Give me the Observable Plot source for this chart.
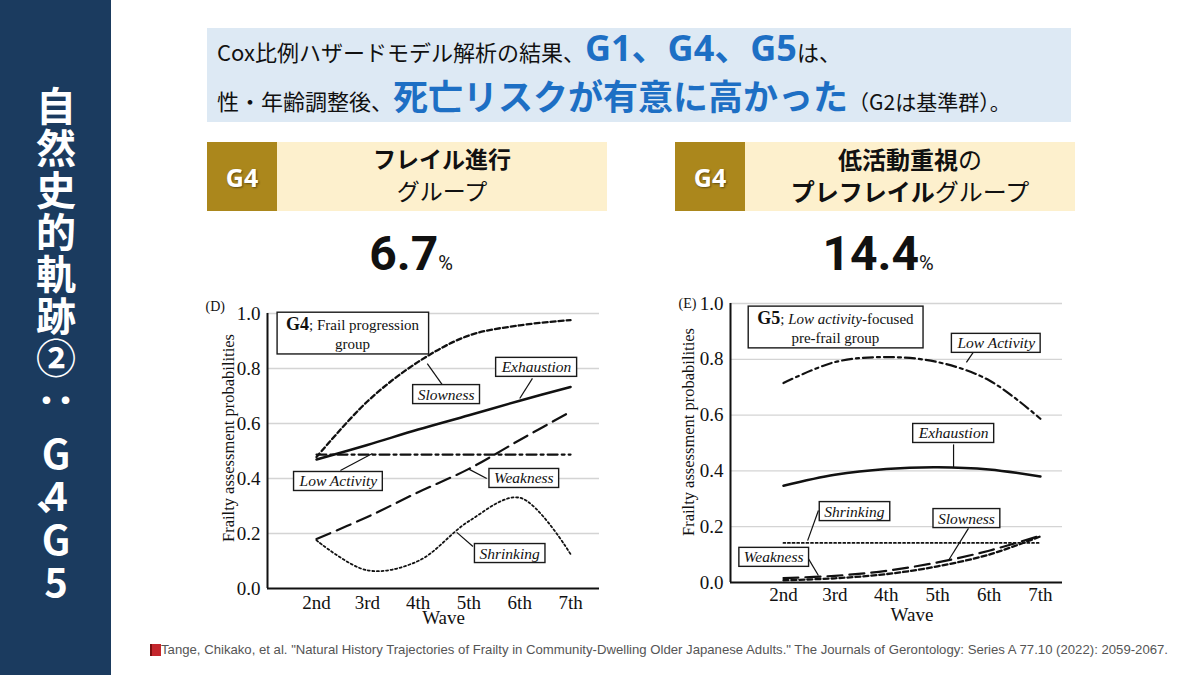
<!DOCTYPE html>
<html><head><meta charset="utf-8">
<script src="https://cdn.jsdelivr.net/npm/d3@7"></script>
<script src="https://cdn.jsdelivr.net/npm/@observablehq/plot@0.6"></script>
<style>
body{margin:0;background:#fff;}
#page{position:relative;width:1200px;height:675px;background:#fff;overflow:hidden;font-family:"Noto Sans CJK JP","Noto Sans",sans-serif;color:#111;}
#side{position:absolute;left:0;top:0;width:111px;height:675px;background:#1b3b5f;}
#sideText{position:absolute;left:36px;top:86px;writing-mode:vertical-rl;text-orientation:upright;color:#fff;font-weight:700;font-size:40px;line-height:1;letter-spacing:2px;white-space:nowrap;}
#topbox{position:absolute;left:207px;top:28px;width:864px;height:94px;background:#dde9f4;}
.tl{position:absolute;left:10px;white-space:nowrap;line-height:1;}
.blue{color:#1d6fc4;font-weight:700;display:inline-block;line-height:0.95;}
.hdr{position:absolute;top:142px;height:69px;}
.gold{background:#ab871c;color:#fff;font-weight:700;font-size:25px;display:flex;align-items:center;justify-content:center;text-shadow:1px 1px 2px rgba(0,0,0,.45);font-family:"Noto Sans","Noto Sans CJK JP",sans-serif;}
.cream{background:#fdf0cd;text-align:center;}
.cream div{position:absolute;left:0;right:0;line-height:1;white-space:nowrap;}
.pct{position:absolute;top:230px;font-family:Roboto,"Liberation Sans",sans-serif;font-weight:700;font-size:48px;line-height:1;white-space:nowrap;text-align:center;width:200px;}
.pct span{font-size:20px;font-weight:400;}
.chart{position:absolute;top:290px;width:410px;height:345px;}
#cap{position:absolute;left:161px;top:642px;font-family:"Liberation Sans Narrow","Liberation Sans",Arial,sans-serif;font-size:13px;color:#555;white-space:nowrap;transform-origin:0 0;}
#icon{position:absolute;left:150px;top:644px;width:9px;height:12px;background:#c4262c;border-left:2px solid #7a1010;}
</style></head>
<body><div id="page">
<div id="side"></div>
<div id="sideText">自然史的軌跡②<span style="margin-inline-end:12px">：</span>G4<span style="margin-inline-start:-22px;margin-inline-end:-18px;position:relative;left:-24px;top:4px;">、</span>G5</div>

<div id="topbox">
  <div class="tl" style="top:3px;font-size:22px;">Cox比例ハザードモデル解析の結果、<span class="blue" style="font-size:36px;font-family:'Noto Sans','Noto Sans CJK JP',sans-serif;">G1、G4、G5</span>は、</div>
  <div class="tl" style="top:50px;font-size:22px;">性・年齢調整後、<span class="blue" style="font-size:35px;">死亡リスクが有意に高かった</span><span style="font-size:21px;">（G2は基準群）。</span></div>
</div>

<div class="hdr gold" style="left:207px;width:70px;">G4</div>
<div class="hdr cream" style="left:277px;width:330px;">
  <div style="top:5px;font-size:23px;font-weight:700;">フレイル進行</div>
  <div style="top:37px;font-size:23px;">グループ</div>
</div>
<div class="hdr gold" style="left:675px;width:70px;">G4</div>
<div class="hdr cream" style="left:745px;width:330px;">
  <div style="top:5px;font-size:24px;"><b>低活動重視</b>の</div>
  <div style="top:37px;font-size:24px;"><b>プレフレイル</b>グループ</div>
</div>

<div class="pct" style="left:311px;">6.7<span>%</span></div>
<div class="pct" style="left:778px;">14.4<span>%</span></div>

<div class="chart" id="chartL" style="left:200px;"></div>
<div class="chart" id="chartR" style="left:670px;"></div>

<div id="icon"></div>
<div id="cap">Tange, Chikako, et al. "Natural History Trajectories of Frailty in Community-Dwelling Older Japanese Adults." The Journals of Gerontology: Series A 77.10 (2022): 2059-2067.</div>
</div>

<script>
// ---- data ----
const waves = [2, 3, 4, 5, 6, 7];
const waveLabels = ["2nd", "3rd", "4th", "5th", "6th", "7th"];
const yTicks = [0, 0.2, 0.4, 0.6, 0.8, 1.0];
const seriesNames = ["Slowness", "Exhaustion", "Low Activity", "Weakness", "Shrinking"];

// G4: Frail progression group
const g4Slowness    = [0.478, 0.680, 0.824, 0.920, 0.957, 0.976];
const g4Exhaustion  = [0.469, 0.522, 0.578, 0.630, 0.683, 0.733];
const g4LowActivity = [0.487, 0.487, 0.487, 0.487, 0.487, 0.487];
const g4Weakness    = [0.180, 0.260, 0.350, 0.435, 0.540, 0.643];
const g4Shrinking   = [0.175, 0.066, 0.100, 0.245, 0.330, 0.125];

// G5: Low activity-focused pre-frail group
const g5Slowness    = [0.008, 0.015, 0.030, 0.058, 0.100, 0.165];
const g5Exhaustion  = [0.347, 0.386, 0.407, 0.413, 0.405, 0.380];
const g5LowActivity = [0.715, 0.790, 0.808, 0.790, 0.725, 0.587];
const g5Weakness    = [0.016, 0.024, 0.042, 0.072, 0.114, 0.168];
const g5Shrinking   = [0.142, 0.142, 0.142, 0.142, 0.142, 0.142];

// annotation labels (data units: wave, probability)
const g4LabelNames = ["Slowness", "Exhaustion", "Low Activity", "Weakness", "Shrinking"];
const g4LabelWave  = [4.55, 6.33, 2.43, 6.08, 5.80];
const g4LabelProb  = [0.705, 0.804, 0.389, 0.400, 0.127];
const g4LeaderFrom = [[4.47, 0.742], [6.25, 0.764], [2.47, 0.429], [5.35, 0.400], [5.08, 0.153]];
const g4LeaderTo   = [[4.18, 0.818], [6.00, 0.691], [3.10, 0.491], [4.98, 0.436], [4.76, 0.204]];

const g5LabelNames = ["Low Activity", "Exhaustion", "Shrinking", "Slowness", "Weakness"];
const g5LabelWave  = [6.14, 5.31, 3.38, 5.56, 1.81];
const g5LabelProb  = [0.857, 0.534, 0.254, 0.229, 0.090];
const g5LeaderFrom = [[5.85, 0.867], [5.31, 0.495], [2.68, 0.258], [5.60, 0.194], [2.47, 0.090]];
const g5LeaderTo   = [[5.56, 0.789], [5.31, 0.412], [2.47, 0.150], [5.21, 0.079], [2.68, 0.025]];

// ---- styles ----
const lineStyle = {
  "Slowness":     {strokeDasharray: "5,3", strokeWidth: 2.3},
  "Exhaustion":   {strokeDasharray: null, strokeWidth: 2.5},
  "Low Activity": {strokeDasharray: "10,4,3,4", strokeWidth: 2.2},
  "Weakness":     {strokeDasharray: "15,7", strokeWidth: 2.2},
  "Shrinking":    {strokeDasharray: "2,2.6", strokeWidth: 1.8}
};
const serif = '"Liberation Serif","DejaVu Serif",serif';

function makeChart(cfg) {
  const seriesMarks = seriesNames.map(name => {
    const vals = cfg.series[name];
    const rows = waves.map((w, i) => ({wave: w, value: vals[i]}));
    const st = lineStyle[name];
    const opts = {x: "wave", y: "value", curve: "catmull-rom", stroke: "#111", strokeWidth: st.strokeWidth};
    if (st.strokeDasharray) opts.strokeDasharray = st.strokeDasharray;
    return Plot.line(rows, opts);
  });
  const labels = cfg.labelNames.map((t, i) => ({text: t, wave: cfg.labelWave[i], prob: cfg.labelProb[i]}));
  const leaders = cfg.leaderFrom.map((f, i) => ({x1: f[0], y1: f[1], x2: cfg.leaderTo[i][0], y2: cfg.leaderTo[i][1]}));
  return Plot.plot({
    width: 410, height: 345,
    marginLeft: cfg.ml, marginRight: cfg.mr, marginTop: cfg.mt, marginBottom: cfg.mb,
    style: {fontFamily: serif, fontSize: "19px", background: "transparent", color: "#111", overflow: "visible"},
    x: {domain: cfg.xDomain, ticks: waves, tickFormat: d => waveLabels[waves.indexOf(d)], tickSize: 0, tickPadding: cfg.tp, label: null},
    y: {domain: [0, 1], ticks: yTicks, tickFormat: d3.format(".1f"), tickSize: 0, tickPadding: 7, label: null},
    marks: [
      Plot.ruleY(yTicks.filter(d => d > 0), {stroke: "#d4d4d4", strokeWidth: 1.3}),
      ...seriesMarks,
      Plot.ruleY([0], {stroke: "#111", strokeWidth: 2}),
      Plot.ruleX([cfg.xDomain[0]], {y1: 0, y2: 1, stroke: "#111", strokeWidth: 2}),
      Plot.link(leaders, {x1: "x1", y1: "y1", x2: "x2", y2: "y2", stroke: "#111", strokeWidth: 1.2}),
      Plot.text(labels, {x: "wave", y: "prob", text: "text", fontStyle: "italic", fontSize: 15.5, fill: "#111", ariaLabel: () => "boxlabel"}),
      Plot.text([cfg.title], {x: () => cfg.titlePos[0], y: () => cfg.titlePos[1], text: d => d, fontSize: 15, lineHeight: 1.25, fill: "#111", ariaLabel: () => "titlelabel"}),
      Plot.text(["Frailty assessment probabilities"], {frameAnchor: "left", textAnchor: "middle", rotate: -90, dx: cfg.ylabDx, dy: cfg.ylabDy, fontSize: 16.5, fill: "#111"}),
      Plot.text(["Wave"], {x: () => 4.5, frameAnchor: "bottom", lineAnchor: "top", dy: cfg.waveDy, fontSize: 19, fill: "#111"}),
      Plot.text([cfg.panel], {frameAnchor: "top-left", textAnchor: "start", lineAnchor: "middle", dx: cfg.panelDx, dy: cfg.panelDy, fontSize: 14, fill: "#111"})
    ]
  });
}

function findTexts(svg, name) {
  const set = new Set();
  svg.querySelectorAll(`text[aria-label="${name}"], g[aria-label="${name}"] text`).forEach(t => set.add(t));
  return Array.from(set);
}

function decorate(svg, titleParts) {
  const NS = "http://www.w3.org/2000/svg";
  // rich title
  findTexts(svg, "titlelabel").forEach(tt => {
    const spans = tt.querySelectorAll("tspan");
    const lines = spans.length ? Array.from(spans) : [tt];
    lines.forEach((ln, i) => {
      if (!titleParts[i]) return;
      ln.textContent = "";
      titleParts[i].forEach(([txt, st]) => {
        const s = document.createElementNS(NS, "tspan");
        s.textContent = txt;
        if (st === "b") { s.setAttribute("font-weight", "bold"); s.setAttribute("font-size", "18"); }
        if (st === "i") s.setAttribute("font-style", "italic");
        ln.appendChild(s);
      });
    });
  });
  const boxIt = (texts, px, py) => {
    texts.forEach(t => {
      const bb = t.getBBox();
      const r = document.createElementNS(NS, "rect");
      r.setAttribute("x", bb.x - px);
      r.setAttribute("y", bb.y - py);
      r.setAttribute("width", bb.width + 2 * px);
      r.setAttribute("height", bb.height + 2 * py);
      r.setAttribute("fill", "#fff");
      r.setAttribute("stroke", "#1a1a1a");
      r.setAttribute("stroke-width", "1.4");
      const tr = t.getAttribute("transform");
      if (tr) r.setAttribute("transform", tr);
      t.parentNode.insertBefore(r, t);
    });
  };
  boxIt(findTexts(svg, "boxlabel"), 5, 1);
  boxIt(findTexts(svg, "titlelabel"), 9, 2);
}

const chartL = makeChart({
  series: {"Slowness": g4Slowness, "Exhaustion": g4Exhaustion, "Low Activity": g4LowActivity, "Weakness": g4Weakness, "Shrinking": g4Shrinking},
  labelNames: g4LabelNames, labelWave: g4LabelWave, labelProb: g4LabelProb, leaderFrom: g4LeaderFrom, leaderTo: g4LeaderTo,
  title: "G4; Frail progression\ngroup", titlePos: [2.71, 0.927],
  ml: 67, mr: 11, mt: 23, mb: 47, xDomain: [1.035, 7.57], tp: 7,
  ylabDx: -39, ylabDy: -13, waveDy: 22, panel: "(D)", panelDx: -62, panelDy: -7
});
document.getElementById("chartL").appendChild(chartL);
decorate(chartL, [[["G4", "b"], ["; Frail progression", ""]], [["group", ""]]]);

const chartR = makeChart({
  series: {"Slowness": g5Slowness, "Exhaustion": g5Exhaustion, "Low Activity": g5LowActivity, "Weakness": g5Weakness, "Shrinking": g5Shrinking},
  labelNames: g5LabelNames, labelWave: g5LabelWave, labelProb: g5LabelProb, leaderFrom: g5LeaderFrom, leaderTo: g5LeaderTo,
  title: "G5; Low activity-focused\npre-frail group", titlePos: [3.01, 0.914],
  ml: 60, mr: 18, mt: 13, mb: 53, xDomain: [0.969, 7.43], tp: 5,
  ylabDx: -42, ylabDy: -11, waveDy: 25, panel: "(E)", panelDx: -52, panelDy: 0
});
document.getElementById("chartR").appendChild(chartR);
decorate(chartR, [[["G5", "b"], ["; ", ""], ["Low activity", "i"], ["-focused", ""]], [["pre-frail group", ""]]]);

// fit caption width
const cap = document.getElementById("cap");
const w = cap.getBoundingClientRect().width;
cap.style.transform = `scaleX(${1007 / w})`;
</script>
</body></html>
